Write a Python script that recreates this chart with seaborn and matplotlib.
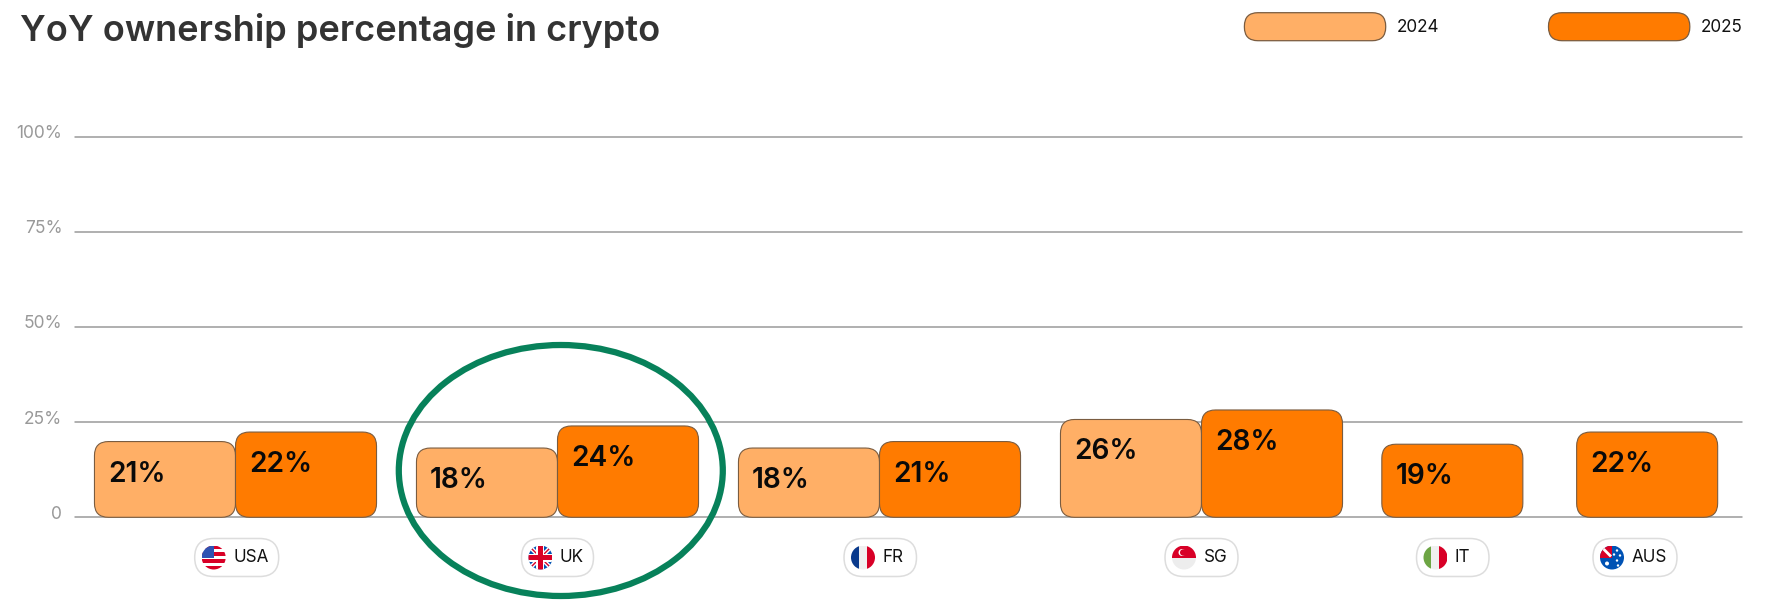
import matplotlib
matplotlib.use("Agg")
import matplotlib.pyplot as plt
import seaborn as sns
import numpy as np
import pandas as pd
from matplotlib.patches import FancyBboxPatch, Circle, Rectangle, Ellipse, Polygon
from matplotlib.transforms import ScaledTranslation

# data, bar heights (labels are what the chart prints)
countries = ["USA", "UK", "FR", "SG", "IT", "AUS"]
heights_2024 = [19.9, 18.2, 18.2, 25.7, np.nan, np.nan]
heights_2025 = [22.4, 24.0, 19.9, 28.2, 19.2, 22.4]
labels_2024 = ["21%", "18%", "18%", "26%", None, None]
labels_2025 = ["22%", "24%", "21%", "28%", "19%", "22%"]
years = ["2024", "2025"]
y_ticks = [0, 25, 50, 75, 100]
y_tick_labels = ["0", "25%", "50%", "75%", "100%"]

LIGHT = "#FFAF66"
DARK = "#FF7B00"
EDGE = "#7A5C40"
GRID = "#9A9A9A"
FONT = "Inter"

sns.set_theme(style="white")
plt.rcParams["font.family"] = [FONT, "DejaVu Sans"]

W, H = 1771, 603
fig = plt.figure(figsize=(W / 100, H / 100), dpi=100, facecolor="white")

# plot area in pixels
left, right, top, bottom = 74.8, 1742, 136.7, 517.3
ax = fig.add_axes([left / W, 1 - bottom / H, (right - left) / W, (bottom - top) / H])

df = pd.DataFrame({
    "country": countries * 2,
    "year": ["2024"] * 6 + ["2025"] * 6,
    "value": heights_2024 + heights_2025,
})
sns.barplot(data=df, x="country", y="value", hue="year", order=countries,
            hue_order=years, palette=[LIGHT, DARK], saturation=1, width=0.876, gap=0,
            errorbar=None, legend=False, ax=ax)

# one category step is 322 px
px_x = 1 / 322
x0 = 235.5
ax.set_xlim((left - x0) * px_x, (right - x0) * px_x)
ax.set_ylim(0, 100)
px_y = 100 / (bottom - top)

# IT and AUS sit closer together than the other groups
slot_shift = [0, 0, 0, 0, -0.44, -0.835]
all_labels = {"2024": labels_2024, "2025": labels_2025}

# swap the square bars for rounded ones
for year, container in zip(years, ax.containers):
    for bar in container:
        h = bar.get_height()
        bar.set_visible(False)
        if not np.isfinite(h) or h == 0:
            continue
        slot = int(round(bar.get_x() + bar.get_width() / 2))
        bx = bar.get_x() + slot_shift[slot]
        rounded = FancyBboxPatch((bx, 0), bar.get_width(), h,
                                 boxstyle=f"round,pad=0,rounding_size={14 * px_x}",
                                 mutation_aspect=px_y / px_x,
                                 fc=bar.get_facecolor(), ec=EDGE, lw=0.8,
                                 clip_on=False, zorder=3)
        ax.add_patch(rounded)
        ax.text(bx + 13.5 * px_x, h - 32.5 * px_y, all_labels[year][slot],
                fontsize=20.2, fontweight="semibold", color="#0A0A0A",
                ha="left", va="center", zorder=4)

ax.set_yticks(y_ticks)
ax.set_yticklabels(y_tick_labels, fontsize=12.5, color="#999999", fontweight="normal")
ax.set_xticks([])
ax.set_xlabel("")
ax.set_ylabel("")
ax.tick_params(axis="y", length=0, pad=9)
for lbl in ax.get_yticklabels():
    lbl.set_transform(lbl.get_transform() + ScaledTranslation(0, 5 / 100, fig.dpi_scale_trans))
for y in y_ticks:
    ax.axhline(y, color=GRID, lw=1.1, zorder=1, clip_on=False)
sns.despine(ax=ax, left=True, bottom=True)

# overlay in pixel coordinates for title, legend, country chips and the circle
ov = fig.add_axes([0, 0, 1, 1], facecolor="none", zorder=5)
ov.set_xlim(0, W)
ov.set_ylim(H, 0)
ov.axis("off")

ov.text(20, 30, "YoY ownership percentage in crypto", fontsize=26,
        fontweight="semibold", color="#333333", ha="left", va="center")

for x_start, color, year in [(1244.4, LIGHT, "2024"), (1548.5, DARK, "2025")]:
    ov.add_patch(FancyBboxPatch((x_start, 12.7), 141.3, 28,
                                boxstyle="round,pad=0,rounding_size=13.5",
                                fc=color, ec=EDGE, lw=0.9))
    ov.text(x_start + 152.5, 27.5, year, fontsize=12.3, color="#111111", ha="left", va="center")


def flag(cx, cy, name, r=12):
    clip = Circle((cx, cy), r, transform=ov.transData)
    parts = []
    if name == "USA":
        for i in range(7):
            parts.append(Rectangle((cx - r, cy - r + i * 2 * r / 7), 2 * r, 2 * r / 7,
                                   fc="#D80027" if i % 2 == 0 else "white"))
        parts.append(Rectangle((cx - r, cy - r), r, r, fc="#2E52B2"))
    elif name == "UK":
        parts.append(Rectangle((cx - r, cy - r), 2 * r, 2 * r, fc="#0052B4"))
        for sign in (1, -1):
            parts.append(Polygon([(cx - r, cy - sign * r), (cx + r, cy + sign * r)], closed=False,
                                 ec="white", lw=3, fill=False))
            parts.append(Polygon([(cx - r, cy - sign * r), (cx + r, cy + sign * r)], closed=False,
                                 ec="#D80027", lw=1, fill=False))
        parts.append(Rectangle((cx - r, cy - 4), 2 * r, 8, fc="white"))
        parts.append(Rectangle((cx - 4, cy - r), 8, 2 * r, fc="white"))
        parts.append(Rectangle((cx - r, cy - 2.5), 2 * r, 5, fc="#D80027"))
        parts.append(Rectangle((cx - 2.5, cy - r), 5, 2 * r, fc="#D80027"))
    elif name in ("FR", "IT"):
        cols = ["#0A3A8C", "#F0F0F0", "#D80027"] if name == "FR" else ["#6DA544", "#F0F0F0", "#D80027"]
        for i, c in enumerate(cols):
            parts.append(Rectangle((cx - r + i * 2 * r / 3, cy - r), 2 * r / 3, 2 * r, fc=c))
    elif name == "SG":
        parts.append(Rectangle((cx - r, cy - r), 2 * r, r, fc="#D80027"))
        parts.append(Rectangle((cx - r, cy), 2 * r, r, fc="#EDEDED"))
        parts.append(Circle((cx - 2, cy - 5), 3.5, fc="white"))
        parts.append(Circle((cx - 0.8, cy - 5), 3.2, fc="#D80027"))
    elif name == "AUS":
        parts.append(Rectangle((cx - r, cy - r), 2 * r, 2 * r, fc="#0052B4"))
        parts.append(Rectangle((cx - r, cy - r), r, r, fc="#D80027"))
        parts.append(Polygon([(cx - r + 3, cy - r + 3), (cx - 1, cy - 1)], closed=False,
                             ec="white", lw=2, fill=False))
        for dx, dy, s in [(-5, 6, 2), (5, -7, 1.2), (8, -2, 1.2), (5, 3, 1.2), (2, -3, 1.2), (6, 8, 1.2)]:
            parts.append(Circle((cx + dx, cy + dy), s, fc="white"))
    for p in parts:
        p.set_linewidth(p.get_linewidth() if isinstance(p, Polygon) else 0)
        ov.add_patch(p)
        p.set_clip_path(clip)


# chip edges: left, right
chips = {"USA": (194.7, 278.7), "UK": (521.5, 593.5), "FR": (844, 916.5),
         "SG": (1165, 1238), "IT": (1416.5, 1489), "AUS": (1593, 1677)}
for name in countries:
    x1, x2 = chips[name]
    ov.add_patch(FancyBboxPatch((x1, 538.5), x2 - x1, 38,
                                boxstyle="round,pad=0,rounding_size=19",
                                fc="white", ec="#DDDDDD", lw=1.1))
    flag(x1 + 19, 557.5, name)
    ov.text(x1 + 38.5, 558, name, fontsize=12.3, color="#111111", ha="left", va="center")

# highlight around UK
ov.add_patch(Ellipse((560.8, 470.5), 324, 251, fill=False, ec="#07815A", lw=4.5))

fig.savefig("out.png", dpi=100, facecolor="white")
